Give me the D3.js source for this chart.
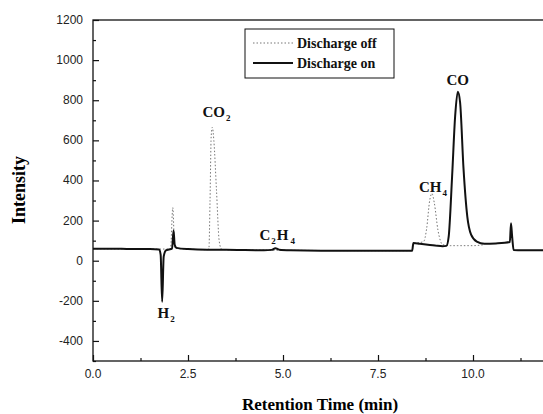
<!DOCTYPE html>
<html>
<head>
<meta charset="utf-8">
<script src="https://cdn.jsdelivr.net/npm/d3@7"></script>
<style>
  body { margin: 0; background: #fff; }
  svg { display: block; }
</style>
</head>
<body>
<div id="chart"></div>
<script>
// chromatogram
const onTime = [0, 0.5, 1.0, 1.5, 1.74, 1.78, 1.82, 1.86, 1.92, 2.0, 2.08, 2.12, 2.15, 2.2, 2.5, 3.0, 3.5, 4.0, 4.5, 4.7, 4.8, 4.9, 5.2, 6.0, 7.0, 8.0, 8.4, 8.43, 8.6, 9.0, 9.2, 9.3, 9.36, 9.45, 9.53, 9.6, 9.66, 9.75, 9.85, 9.95, 10.1, 10.3, 10.6, 10.97, 11.0, 11.03, 11.07, 11.3, 12.0];
const onValue = [60, 60, 58, 58, 56, 30, -205, 20, 52, 56, 60, 150, 80, 64, 58, 55, 55, 53, 52, 54, 62, 55, 52, 50, 50, 50, 50, 88, 84, 76, 72, 74, 120, 420, 720, 842, 790, 460, 220, 130, 95, 84, 86, 93, 187, 120, 53, 52, 52];

const offTime = [0, 1.5, 2.04, 2.1, 2.15, 2.5, 3.0, 3.05, 3.08, 3.11, 3.14, 3.18, 3.25, 3.32, 3.38, 3.5, 5.0, 8.0, 8.4, 8.43, 8.7, 8.78, 8.86, 8.92, 8.98, 9.08, 9.2, 9.4, 9.6, 10.0, 10.3];
const offValue = [60, 58, 58, 265, 62, 58, 55, 60, 300, 620, 665, 600, 350, 100, 58, 55, 52, 50, 50, 85, 95, 160, 300, 335, 290, 150, 80, 75, 75, 75, 80];

const yTicks = [-400, -200, 0, 200, 400, 600, 800, 1000, 1200];
const yMinor = [-500, -300, -100, 100, 300, 500, 700, 900, 1100];
const xTicks = [0, 2.5, 5, 7.5, 10];
const xMinor = [1.25, 3.75, 6.25, 8.75, 11.25];

const legendLabels = ['Discharge off', 'Discharge on'];

const width = 543, height = 414;
const plotL = 93, plotT = 20, plotR = 549, plotB = 361;

const svg = d3.select('#chart').append('svg')
  .attr('width', width)
  .attr('height', height);

const x = d3.scaleLinear().domain([0, 12]).range([plotL, plotR]);
const y = d3.scaleLinear().domain([-500, 1200]).range([plotB, plotT]);

const serif = '"Liberation Serif", "Times New Roman", serif';
const sans = '"Liberation Sans", Arial, sans-serif';

// frame
svg.append('rect')
  .attr('x', plotL).attr('y', plotT)
  .attr('width', plotR - plotL).attr('height', plotB - plotT)
  .attr('fill', 'none').attr('stroke', '#111').attr('stroke-width', 1.3);

// axes, ticks pointing inward
svg.append('g').attr('transform', `translate(${plotL},0)`)
  .call(d3.axisRight(y).tickValues(yTicks).tickSize(6).tickFormat(''))
  .select('.domain').remove();
svg.append('g').attr('transform', `translate(${plotL},0)`)
  .call(d3.axisRight(y).tickValues(yMinor).tickSize(3).tickFormat(''))
  .select('.domain').remove();

svg.append('g').attr('transform', `translate(0,${plotB})`)
  .call(d3.axisTop(x).tickValues(xTicks).tickSize(6).tickFormat(''))
  .select('.domain').remove();
svg.append('g').attr('transform', `translate(0,${plotB})`)
  .call(d3.axisTop(x).tickValues(xMinor).tickSize(3).tickFormat(''))
  .select('.domain').remove();

svg.selectAll('.tick line').attr('stroke', '#111').attr('stroke-width', 1.2);

// tick labels
svg.selectAll('.ylab').data(yTicks).enter().append('text')
  .attr('x', plotL - 10).attr('y', d => y(d) + 4)
  .attr('text-anchor', 'end')
  .attr('font-family', sans).attr('font-size', 12).attr('fill', '#222')
  .text(d => d);

svg.selectAll('.xlab').data(xTicks).enter().append('text')
  .attr('x', d => x(d)).attr('y', plotB + 17)
  .attr('text-anchor', 'middle')
  .attr('font-family', sans).attr('font-size', 12).attr('fill', '#222')
  .text(d => d.toFixed(1));

// axis titles
svg.append('text')
  .attr('x', 320).attr('y', 410)
  .attr('text-anchor', 'middle')
  .attr('font-family', serif).attr('font-weight', 'bold').attr('font-size', 17)
  .text('Retention Time (min)');

svg.append('text')
  .attr('transform', 'translate(25,190) rotate(-90)')
  .attr('text-anchor', 'middle')
  .attr('font-family', serif).attr('font-weight', 'bold').attr('font-size', 18)
  .text('Intensity');

// lines
svg.append('clipPath').attr('id', 'plot')
  .append('rect').attr('x', plotL).attr('y', plotT)
  .attr('width', plotR - plotL).attr('height', plotB - plotT);

const line = d3.line().x(d => x(d[0])).y(d => y(d[1])).curve(d3.curveMonotoneX);

svg.append('path')
  .datum(offTime.map((t, i) => [t, offValue[i]]))
  .attr('d', line)
  .attr('clip-path', 'url(#plot)')
  .attr('fill', 'none').attr('stroke', '#777').attr('stroke-width', 1)
  .attr('stroke-dasharray', '1.5,2');

svg.append('path')
  .datum(onTime.map((t, i) => [t, onValue[i]]))
  .attr('d', line)
  .attr('clip-path', 'url(#plot)')
  .attr('fill', 'none').attr('stroke', '#111').attr('stroke-width', 2)
  .attr('stroke-linejoin', 'round');

// peak labels
const peaks = [
  { t: 2.88, v: 717, main: 'CO', sub: '2' },
  { t: 4.38, v: 103, main: 'C', sub: '2', main2: 'H', sub2: '4' },
  { t: 1.7, v: -288, main: 'H', sub: '2' },
  { t: 8.58, v: 343, main: 'CH', sub: '4' },
  { t: 9.3, v: 878, main: 'CO' }
];

peaks.forEach(p => {
  const t = svg.append('text')
    .attr('x', x(p.t)).attr('y', y(p.v))
    .attr('font-family', serif).attr('font-weight', 'bold').attr('font-size', 15)
    .attr('fill', '#111');
  t.append('tspan').text(p.main);
  if (p.sub) t.append('tspan').attr('font-size', 9).attr('dx', 1).attr('dy', 4).text(p.sub);
  if (p.main2) t.append('tspan').attr('dx', 1).attr('dy', -4).text(p.main2);
  if (p.sub2) t.append('tspan').attr('font-size', 9).attr('dx', 2).attr('dy', 4).text(p.sub2);
});

// legend
const lg = svg.append('g').attr('transform', 'translate(245,29)');
lg.append('rect').attr('width', 149).attr('height', 49)
  .attr('fill', '#fff').attr('stroke', '#111').attr('stroke-width', 1);
legendLabels.forEach((label, i) => {
  const yy = 14 + i * 20;
  lg.append('line')
    .attr('x1', 8).attr('x2', 48).attr('y1', yy).attr('y2', yy)
    .attr('stroke', i === 0 ? '#777' : '#111')
    .attr('stroke-width', i === 0 ? 1 : 2)
    .attr('stroke-dasharray', i === 0 ? '1.5,2' : null);
  lg.append('text')
    .attr('x', 52).attr('y', yy + 5)
    .attr('font-family', serif).attr('font-weight', 'bold').attr('font-size', 14)
    .attr('fill', '#111')
    .text(label);
});
</script>
</body>
</html>
